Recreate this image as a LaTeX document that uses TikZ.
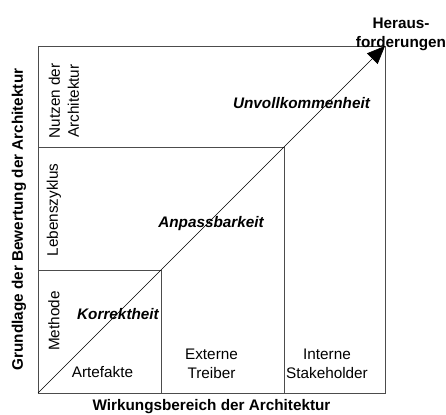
\documentclass[tikz,border=0pt]{standalone}
\usepackage{fontspec}
\setmainfont{Liberation Sans}
\usetikzlibrary{arrows.meta}
\begin{document}
\begin{tikzpicture}[x=1pt,y=1pt,font=\fontsize{15.3}{19}\selectfont,
    feld/.style={draw=black!70,line width=0.8pt},
    stufe/.style={font=\fontsize{15.3}{19}\selectfont\bfseries\itshape},
    achse/.style={font=\fontsize{15.3}{19}\selectfont\bfseries,align=center}]
      \useasboundingbox (0,0) rectangle (446,414);
      \coordinate (ursprung) at (38,21);
      \coordinate (spitze) at (385,368);
      \draw[feld] (ursprung) rectangle (spitze);
      \draw[feld] (38,267) -- (284,267) -- (284,21);
      \draw[feld] (38,144) -- (161,144) -- (161,21);
      \draw[-{Triangle[length=18pt,width=15pt]},line width=0.6pt] (ursprung) -- (spitze);
      \node[stufe] (unvoll) at (301.5,311) {Unvollkommenheit};
      \node[stufe] (anpass) at (211,190) {Anpassbarkeit};
      \node[stufe] (korrekt) at (118,100) {Korrektheit};
      \node[anchor=base] (artefakte) at (102.5,36) {Artefakte};
      \node[align=center] (extern) at (211.5,50) {Externe\\Treiber};
      \node[align=center] (intern) at (327,50) {Interne\\Stakeholder};
      \node[rotate=90,align=center] (nutzen) at (64,313) {Nutzen der\\Architektur};
      \node[rotate=90] (leben) at (54,204) {Lebenszyklus};
      \node[rotate=90] (methode) at (54,93) {Methode};
      \node[achse,rotate=90] (grundlage) at (19,194.5) {Grundlage der Bewertung der Architektur};
      \node[achse,anchor=base] (wirkung) at (211.5,4) {Wirkungsbereich der Architektur};
      \node[achse] (heraus) at (401,380) {Heraus-\\forderungen};
\end{tikzpicture}
\end{document}
